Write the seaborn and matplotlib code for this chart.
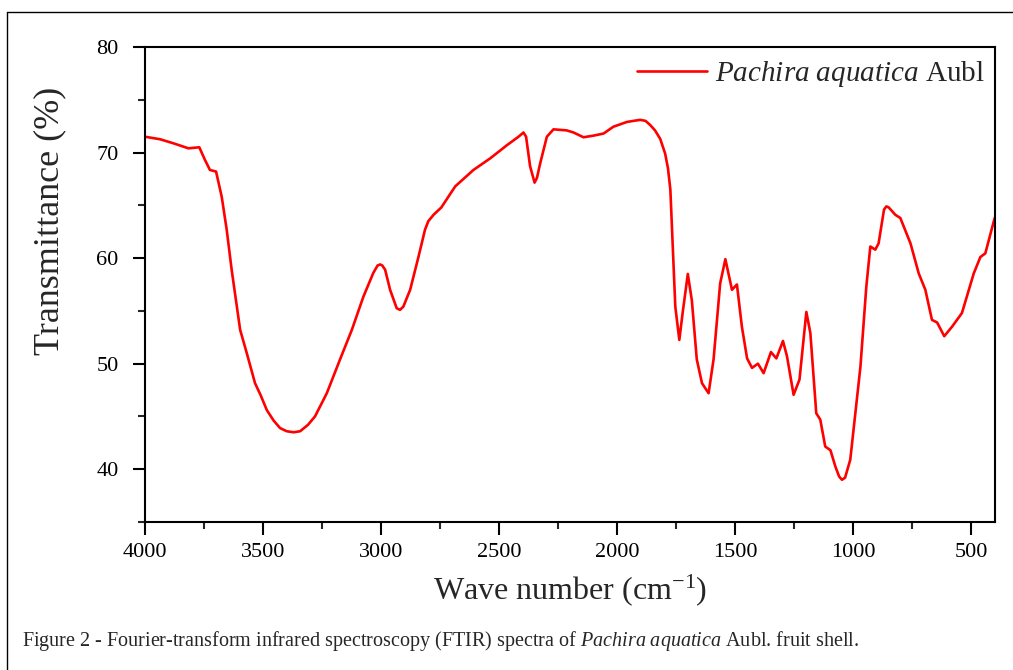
import numpy as np
import pandas as pd
import matplotlib.pyplot as plt
from matplotlib.lines import Line2D
from matplotlib.ticker import MultipleLocator
import seaborn as sns

# FTIR spectrum (wavenumber in cm-1, transmittance in %)
wavenumber = [
    4000, 3936, 3880, 3816, 3770, 3746, 3725, 3699, 3675, 3654, 3633, 3611,
    3597, 3569, 3534, 3510, 3484, 3455, 3428, 3400, 3370, 3343, 3310, 3280,
    3230, 3174, 3124, 3075, 3033, 3015, 3004, 2995, 2983, 2962, 2934, 2920,
    2906, 2877, 2842, 2814, 2800, 2778, 2745, 2686, 2609, 2538, 2467, 2418,
    2397, 2386, 2369, 2350, 2340, 2326, 2298, 2270, 2214, 2185, 2143, 2101,
    2058, 2016, 1959, 1930, 1903, 1880, 1860, 1840, 1818, 1797, 1785, 1775,
    1764, 1754, 1737, 1723, 1701, 1684, 1663, 1641, 1613, 1592, 1564, 1542,
    1514, 1493, 1472, 1450, 1429, 1404, 1380, 1349, 1326, 1298, 1281, 1253,
    1228, 1199, 1182, 1157, 1140, 1119, 1097, 1076, 1060, 1048, 1035, 1013,
    970, 945, 928, 907, 893, 870, 860, 850, 822, 801, 758, 723, 695, 667,
    645, 615, 582, 540, 490, 462, 441, 405, 398,
]
transmittance = [
    71.5, 71.26, 70.88, 70.4, 70.5, 69.3, 68.35, 68.2, 65.8, 62.7, 58.9, 55.4,
    53.2, 51.0, 48.15, 47.0, 45.6, 44.6, 43.9, 43.6, 43.5, 43.6, 44.2, 45.0,
    47.2, 50.4, 53.2, 56.35, 58.6, 59.3, 59.4, 59.3, 58.9, 57.0, 55.25, 55.1,
    55.4, 57.0, 60.1, 62.7, 63.5, 64.1, 64.8, 66.8, 68.35, 69.45, 70.7, 71.5,
    71.9, 71.5, 68.7, 67.15, 67.6, 69.0, 71.5, 72.2, 72.1, 71.9, 71.45, 71.6,
    71.8, 72.45, 72.9, 73.0, 73.1, 73.0, 72.6, 72.1, 71.3, 69.9, 68.5, 66.5,
    60.8, 55.4, 52.25, 54.8, 58.5, 56.0, 50.4, 48.15, 47.2, 50.4, 57.6, 59.9,
    57.0, 57.5, 53.5, 50.5, 49.6, 50.0, 49.1, 51.1, 50.5, 52.15, 50.7, 47.05,
    48.5, 54.9, 52.9, 45.3, 44.7, 42.15, 41.8, 40.25, 39.3, 39.0, 39.2, 40.9,
    49.7, 57.3, 61.1, 60.8, 61.4, 64.6, 64.9, 64.8, 64.1, 63.8, 61.4, 58.55,
    57.0, 54.15, 53.9, 52.6, 53.5, 54.8, 58.55, 60.1, 60.45, 63.5, 64.0,
]
x_ticks = [4000, 3500, 3000, 2500, 2000, 1500, 1000, 500]
y_ticks = [40, 50, 60, 70, 80]

df = pd.DataFrame({"wavenumber": wavenumber, "transmittance": transmittance})

sns.set_style("ticks")
plt.rcParams["font.family"] = ["Liberation Serif", "DejaVu Serif"]
plt.rcParams["mathtext.fontset"] = "custom"
plt.rcParams["mathtext.rm"] = "Liberation Serif"
plt.rcParams["mathtext.it"] = "Liberation Serif:italic"

fig = plt.figure(figsize=(10.13, 6.70), dpi=100)
ax = fig.add_axes([145 / 1013, 1 - 522 / 670, 850 / 1013, 475 / 670])

sns.lineplot(data=df, x="wavenumber", y="transmittance", ax=ax, sort=False,
             color="#ff0000", linewidth=1.9,
             label=r"$\it{Pachira\ aquatica}$ Aubl")

ax.set_xlim(4000, 400)
ax.set_ylim(35, 80)
ax.set_xticks(x_ticks)
ax.set_yticks(y_ticks)
ax.xaxis.set_minor_locator(MultipleLocator(250))
ax.yaxis.set_minor_locator(MultipleLocator(5))
ax.tick_params(which="major", direction="out", length=9, width=1.5,
               labelsize=16, colors="black")
ax.tick_params(which="minor", direction="out", length=5, width=1.5)
ax.tick_params(axis="x", pad=6)
ax.tick_params(axis="y", pad=10)
for sp in ax.spines.values():
    sp.set_visible(True)
    sp.set_linewidth(1.5)
    sp.set_color("black")

ax.set_xlabel(r"Wave number (cm$^{\mathregular{-1}}$)", fontsize=23)
ax.set_ylabel("Transmittance (%)", fontsize=26)
ax.xaxis.set_label_coords(0.5, -0.143)
ax.xaxis.label.set_verticalalignment("center")
ax.yaxis.set_label_coords(-0.112, 0.634)
ax.yaxis.label.set_verticalalignment("center")

ax.legend(loc="upper right", bbox_to_anchor=(1.005, 1.005), frameon=False,
          fontsize=21, handlelength=2.4, handletextpad=0.25, borderaxespad=0.1)

fig.text(22 / 1013, 1 - 641 / 670,
         r"Figure 2 - Fourier-transform infrared spectroscopy (FTIR) spectra of "
         r"$\it{Pachira\ aquatica}$ Aubl. fruit shell.",
         fontsize=14.5, va="center", ha="left")

# outer frame of the figure panel
fig.add_artist(Line2D([7 / 1013, 7 / 1013], [0, 1 - 12 / 670], color="black",
                      linewidth=1.0, transform=fig.transFigure))
fig.add_artist(Line2D([7 / 1013, 1], [1 - 12 / 670, 1 - 12 / 670], color="black",
                      linewidth=1.0, transform=fig.transFigure))

fig.savefig("out.png", dpi=100, facecolor="white")
